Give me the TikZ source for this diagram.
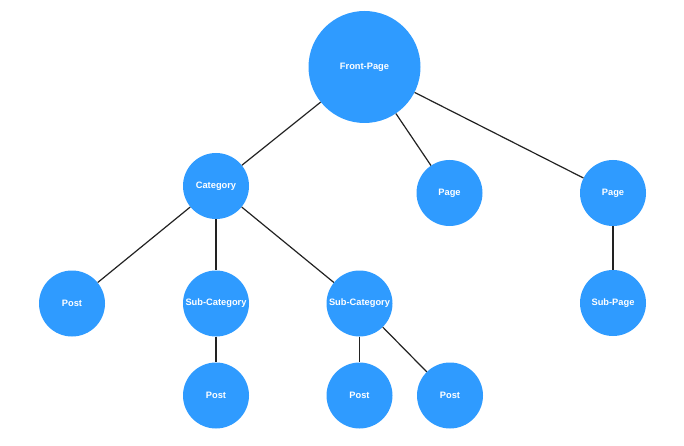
\documentclass[tikz,border=0pt]{standalone}
\usepackage{fontspec}
\setmainfont{Liberation Sans}
\definecolor{nodeblue}{RGB}{47,155,255}
\definecolor{linegray}{RGB}{34,34,34}
\begin{document}
\begin{tikzpicture}[x=1pt,y=-1pt,
  bubble/.style={circle,fill=nodeblue,inner sep=0pt,minimum size=66pt,
    text=white,font=\fontsize{9.3}{11}\selectfont\bfseries},
  bigbubble/.style={bubble,minimum size=112pt},
  link/.style={draw=linegray,line width=1.2pt}]
\useasboundingbox (0,0) rectangle (684,446);
\node[bigbubble] (fp) at (364.5,67) {Front-Page};
\node[bubble] (cat) at (216,186) {Category};
\node[bubble] (pg1) at (449.5,193) {Page};
\node[bubble] (pg2) at (613,193) {Page};
\node[bubble] (post1) at (72,303.5) {Post};
\node[bubble] (sc1) at (216,303.5) {Sub-Category};
\node[bubble] (sc2) at (359.5,303.5) {Sub-Category};
\node[bubble] (sp) at (613,303) {Sub-Page};
\node[bubble] (post2) at (216,395.5) {Post};
\node[bubble] (post3) at (359.5,395.5) {Post};
\node[bubble] (post4) at (450,395.5) {Post};
\draw[link] (fp) -- (cat);
\draw[link] (fp) -- (pg1);
\draw[link] (fp) -- (pg2);
\draw[link] (cat) -- (post1);
\draw[link] (cat) -- (sc1);
\draw[link] (cat) -- (sc2);
\draw[link] (pg2) -- (sp);
\draw[link] (sc1) -- (post2);
\draw[link] (sc2) -- (post3);
\draw[link] (sc2) -- (post4);
\end{tikzpicture}
\end{document}
